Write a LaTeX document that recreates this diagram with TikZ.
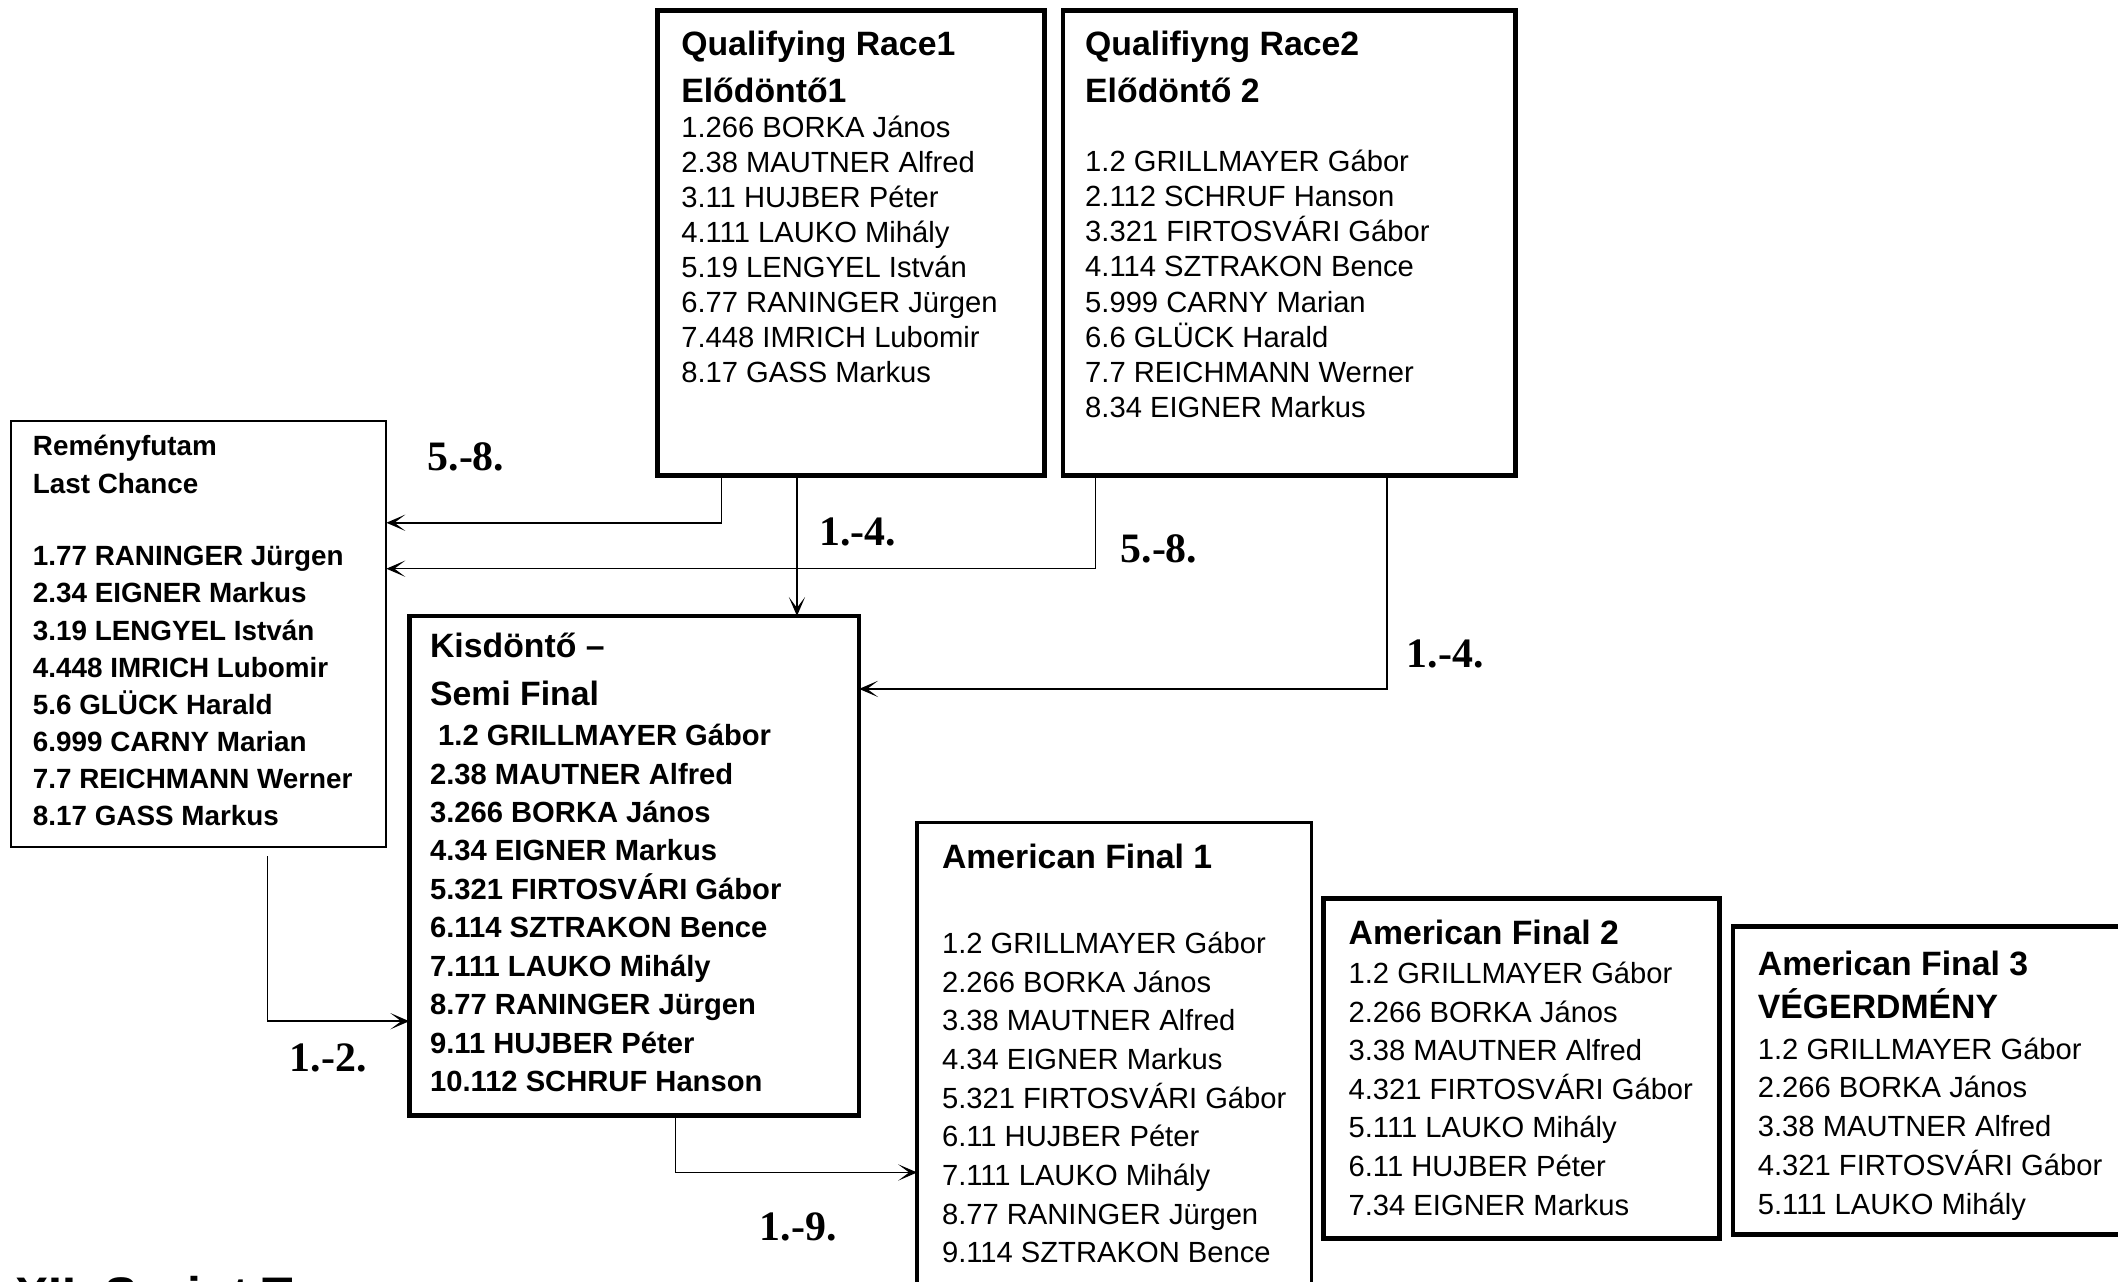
\documentclass[tikz,border=0pt]{standalone}
\usepackage{fontspec}
\setmainfont{Liberation Sans}
\newfontfamily\lblfont{Liberation Serif}
\usetikzlibrary{arrows.meta}

\begin{document}
\begin{tikzpicture}[x=0.5pt,y=-0.5pt]
\tikzstyle{box} = [draw,rectangle,anchor=north west,inner sep=0,outer sep=0,line width=1.75pt];
\tikzstyle{midbox} = [box,line width=1.25pt];
\tikzstyle{thinbox} = [box,line width=0.75pt];
\tikzstyle{txt} = [anchor=base west,inner sep=0,font=\fontsize{10.8}{13}\selectfont];
\tikzstyle{bold} = [txt,font=\fontsize{10.8}{13}\selectfont\bfseries];
\tikzstyle{small} = [txt,font=\fontsize{10.3}{12}\selectfont\bfseries];
\tikzstyle{head} = [txt,font=\fontsize{12.5}{15}\selectfont\bfseries];
\tikzstyle{lbl} = [inner sep=0,font=\fontsize{15.5}{18}\selectfont\lblfont\bfseries];
\tikzstyle{conn} = [line width=0.6pt,-{Stealth[length=7pt,width=6pt,inset=4pt]}];
\useasboundingbox (0,0) rectangle (1568,949);

\node[box,minimum width=143pt,minimum height=172pt] (q1) at (487,8) {};
\node[box,minimum width=167.5pt,minimum height=172pt] (q2) at (787,8) {};
\node[thinbox,minimum width=139pt,minimum height=157.5pt] (rem) at (8,312) {};
\node[box,minimum width=166.5pt,minimum height=185pt] (kis) at (303,456) {};
\node[midbox,minimum width=146pt,minimum height=180pt] (af1) at (679,609) {};
\node[box,minimum width=146.5pt,minimum height=126pt] (af2) at (980,665) {};
\node[box,minimum width=150pt,minimum height=114pt] (af3) at (1283,686) {};

% qualifying races
\node[head] (q1_a) at (504,41) {Qualifying Race1};
\node[head] (q1_b) at (504,76) {Elődöntő1};
\foreach \n [count=\i] in {1.266 BORKA János, 2.38 MAUTNER Alfred, 3.11 HUJBER Péter, 4.111 LAUKO Mihály, 5.19 LENGYEL István, 6.77 RANINGER Jürgen, 7.448 IMRICH Lubomir, 8.17 GASS Markus}{
	\node[txt] (q1_\i) at (504,{102+25.9*(\i-1)}) {\n};
}
\node[head] (q2_a) at (803,41) {Qualifiyng Race2};
\node[head] (q2_b) at (803,76) {Elődöntő 2};
\foreach \n [count=\i] in {1.2 GRILLMAYER Gábor, 2.112 SCHRUF Hanson, 3.321 FIRTOSVÁRI Gábor, 4.114 SZTRAKON Bence, 5.999 CARNY Marian, 6.6 GLÜCK Harald, 7.7 REICHMANN Werner, 8.34 EIGNER Markus}{
	\node[txt] (q2_\i) at (803,{127+26*(\i-1)}) {\n};
}

% last chance
\node[small] (rem_a) at (24,337) {Reményfutam};
\node[small] (rem_b) at (24,365) {Last Chance};
\foreach \n [count=\i] in {1.77 RANINGER Jürgen, 2.34 EIGNER Markus, 3.19 LENGYEL István, 4.448 IMRICH Lubomir, 5.6 GLÜCK Harald, 6.999 CARNY Marian, 7.7 REICHMANN Werner, 8.17 GASS Markus}{
	\node[small] (rem_\i) at (24,{419+27.4*(\i-1)}) {\n};
}

% semi final
\node[head] (kis_a) at (318,487) {Kisdöntő –};
\node[head] (kis_b) at (318,522) {Semi Final};
\foreach \n [count=\i] in {~1.2 GRILLMAYER Gábor, 2.38 MAUTNER Alfred, 3.266 BORKA János, 4.34 EIGNER Markus, 5.321 FIRTOSVÁRI Gábor, 6.114 SZTRAKON Bence, 7.111 LAUKO Mihály, 8.77 RANINGER Jürgen, 9.11 HUJBER Péter, 10.112 SCHRUF Hanson}{
	\node[bold] (kis_\i) at (318,{552+28.45*(\i-1)}) {\n};
}

% american finals
\node[head] (af1_a) at (697,643) {American Final 1};
\foreach \n [count=\i] in {1.2 GRILLMAYER Gábor, 2.266 BORKA János, 3.38 MAUTNER Alfred, 4.34 EIGNER Markus, 5.321 FIRTOSVÁRI Gábor, 6.11 HUJBER Péter, 7.111 LAUKO Mihály, 8.77 RANINGER Jürgen, 9.114 SZTRAKON Bence}{
	\node[txt] (af1_\i) at (697,{706+28.6*(\i-1)}) {\n};
}
\node[head] (af2_a) at (998,699) {American Final 2};
\foreach \n [count=\i] in {1.2 GRILLMAYER Gábor, 2.266 BORKA János, 3.38 MAUTNER Alfred, 4.321 FIRTOSVÁRI Gábor, 5.111 LAUKO Mihály, 6.11 HUJBER Péter, 7.34 EIGNER Markus}{
	\node[txt] (af2_\i) at (998,{728+28.6*(\i-1)}) {\n};
}
\node[head] (af3_a) at (1301,722) {American Final 3};
\node[head] (af3_b) at (1301,754) {VÉGERDMÉNY};
\foreach \n [count=\i] in {1.2 GRILLMAYER Gábor, 2.266 BORKA János, 3.38 MAUTNER Alfred, 4.321 FIRTOSVÁRI Gábor, 5.111 LAUKO Mihály}{
	\node[txt] (af3_\i) at (1301,{784+28.7*(\i-1)}) {\n};
}

% connectors
\coordinate (q1_out) at ([xshift=51.5pt]q1.south west);
\draw[conn] ([xshift=23.5pt]q1.south west) |- ([yshift=-37.5pt]rem.north east);
\draw[conn] ([xshift=12pt]q2.south west) |- ([yshift=-54.5pt]rem.north east);
\draw[conn] (q1_out) -- (q1_out |- kis.north);
\draw[conn] ([xshift=120pt]q2.south west) |- ([yshift=-27pt]kis.north east);
\draw[conn] ([xshift=95pt,yshift=-3.5pt]rem.south west) |- ([yshift=-150pt]kis.north west);
\draw[conn] ([xshift=98.5pt]kis.south west) |- ([yshift=-129.5pt]af1.north west);

\node[lbl] (l58a) at (345,338) {5.-8.};
\node[lbl] (l14a) at (635,394) {1.-4.};
\node[lbl] (l58b) at (858,406) {5.-8.};
\node[lbl] (l14b) at (1070,484) {1.-4.};
\node[lbl] (l12) at (243,783) {1.-2.};
\node[lbl] (l19) at (591,908) {1.-9.};

\node[txt,font=\fontsize{18.5}{22}\selectfont\bfseries] (title) at (11,972) {XII. Sprint Torna};
\end{tikzpicture}
\end{document}
